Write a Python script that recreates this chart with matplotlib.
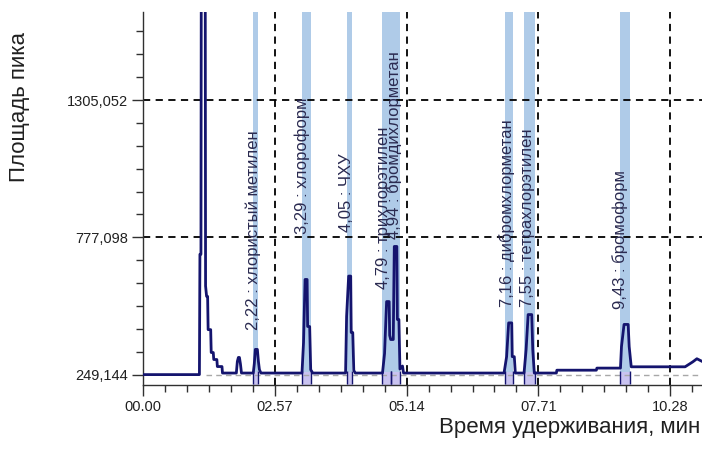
import numpy as np
import matplotlib
matplotlib.use("Agg")
import matplotlib.pyplot as plt
from matplotlib.ticker import FixedLocator, MultipleLocator

# chromatogram trace (minutes, peak area units)
time_min = [0.00, 1.10, 1.11, 1.13, 1.14, 1.21, 1.22, 1.24, 1.26, 1.27, 1.32, 1.33,
            1.37, 1.38, 1.44, 1.45, 1.54, 1.55, 1.82, 1.84, 1.86, 1.88, 1.90, 1.92,
            2.15, 2.17, 2.19, 2.23, 2.25, 2.27, 2.30,
            3.10, 3.13, 3.16, 3.20, 3.21, 3.25, 3.27, 3.31,
            3.95, 3.97, 4.01, 4.05, 4.06, 4.09, 4.11, 4.14,
            4.67, 4.71, 4.75, 4.80, 4.81, 4.83, 4.88, 4.90, 4.95, 4.96, 4.99, 5.01, 5.06, 5.08,
            7.04, 7.09, 7.13, 7.19, 7.20, 7.24, 7.26,
            7.43, 7.47, 7.51, 7.58, 7.60, 7.63,
            8.06, 8.07, 8.84, 8.85,
            9.31, 9.33, 9.38, 9.46, 9.48, 9.52,
            10.57, 10.72, 10.80, 10.90]
area = [249, 249, 712, 712, 2400, 2400, 590, 550, 550, 422, 422, 334,
        334, 307, 307, 280, 280, 255, 255, 300, 315, 315, 290, 255,
        255, 290, 346, 346, 300, 268, 255,
        255, 372, 615, 615, 434, 434, 268, 255,
        255, 473, 628, 628, 411, 411, 265, 255,
        255, 330, 530, 530, 400, 384, 384, 742, 742, 461, 461, 270, 282, 255,
        255, 318, 448, 448, 318, 318, 255,
        255, 345, 480, 480, 345, 255,
        255, 266, 266, 274,
        274, 357, 442, 442, 357, 279,
        279, 298, 310, 300]

# integration windows of the identified peaks
band_start = [2.15, 3.11, 3.97, 4.67, 4.84, 7.05, 7.42, 9.30]
band_end = [2.25, 3.27, 4.07, 4.84, 5.01, 7.21, 7.64, 9.50]
peak_names = ["2,22 : хлористый метилен", "3,29 : хлороформ", "4,05 : ЧХУ",
              "4,79 : трихлорэтилен", "4,94 : бромдихлорметан",
              "7,16 : дибромхлорметан", "7,55 : тетрахлорэтилен", "9,43 : бромоформ"]

x_ticks = [0.0, 2.57, 5.14, 7.71, 10.28]
y_ticks = [249.144, 777.098, 1305.052]

# label placement (layout only)
label_x = [2.15, 3.10, 3.96, 4.69, 4.89, 7.10, 7.49, 9.30]
label_y = [422, 789, 796, 577, 769, 511, 511, 500]

narrow = ["Liberation Sans Narrow", "Liberation Sans", "DejaVu Sans"]
navy = "#14146e"

fig = plt.figure(figsize=(7.02, 4.5), dpi=100)
ax = fig.add_axes([143 / 702, 65 / 450, 559 / 702, 373 / 450])
ax.set_xlim(0, 10.9)
ax.set_ylim(209, 1644)

# bands and lavender boxes under the peaks
for s, e in zip(band_start, band_end):
    ax.axvspan(s, e, color="#afcbe8", lw=0, zorder=1)
    ax.fill_between([s, e], 209, 258, color="#c9c3f0", lw=0, zorder=1.5)

# grid
for yt in y_ticks[1:]:
    ax.axhline(yt, color="black", lw=1.3, dashes=(4, 3), zorder=2)
for xt in x_ticks[1:]:
    ax.axvline(xt, color="black", lw=1.3, dashes=(4, 3), zorder=2)
ax.plot([1.22, 10.9], [y_ticks[0], y_ticks[0]], color="#a8a8a8", lw=1, dashes=(4, 3), zorder=2)

ax.plot(time_min, area, color=navy, lw=2.0, zorder=4)

# integration markers
ax.vlines(band_start + band_end, 212, 262, color=navy, lw=1, zorder=3)

for x, y, name in zip(label_x, label_y, peak_names):
    ax.text(x, y, name, rotation=90, ha="center", va="bottom", fontsize=12,
            family=narrow, color="#2a2a50", zorder=5)

ax.xaxis.set_major_locator(FixedLocator(x_ticks))
ax.xaxis.set_minor_locator(MultipleLocator(2.57 / 6))
ax.set_xticklabels(["%05.2f" % v for v in x_ticks])
ax.yaxis.set_major_locator(FixedLocator(y_ticks))
ax.yaxis.set_minor_locator(FixedLocator([y_ticks[0] + k * 527.954 / 6 for k in range(1, 17)]))
ax.set_yticklabels([("%.3f" % v).replace(".", ",") for v in y_ticks])

ax.tick_params(which="major", length=8, width=1, color="#303030", labelsize=10.5, pad=3)
ax.tick_params(which="minor", length=5, width=1, color="#303030")
for lab in ax.get_xticklabels() + ax.get_yticklabels():
    lab.set_family(narrow)
    lab.set_color("#202020")

for side in ["top", "right"]:
    ax.spines[side].set_visible(False)
for side in ["left", "bottom"]:
    ax.spines[side].set_color("#303030")
    ax.spines[side].set_linewidth(1)

fig.text(20 / 702, 1 - 107 / 450, "Площадь пика", rotation=90, ha="center", va="center",
         fontsize=16, family=["Liberation Sans", "DejaVu Sans"], color="#202020")
fig.text(700 / 702, 1 - 428 / 450, "Время удерживания, мин", ha="right", va="center",
         fontsize=16, family=["Liberation Sans", "DejaVu Sans"], color="#202020")

fig.savefig("out.png", dpi=100)
